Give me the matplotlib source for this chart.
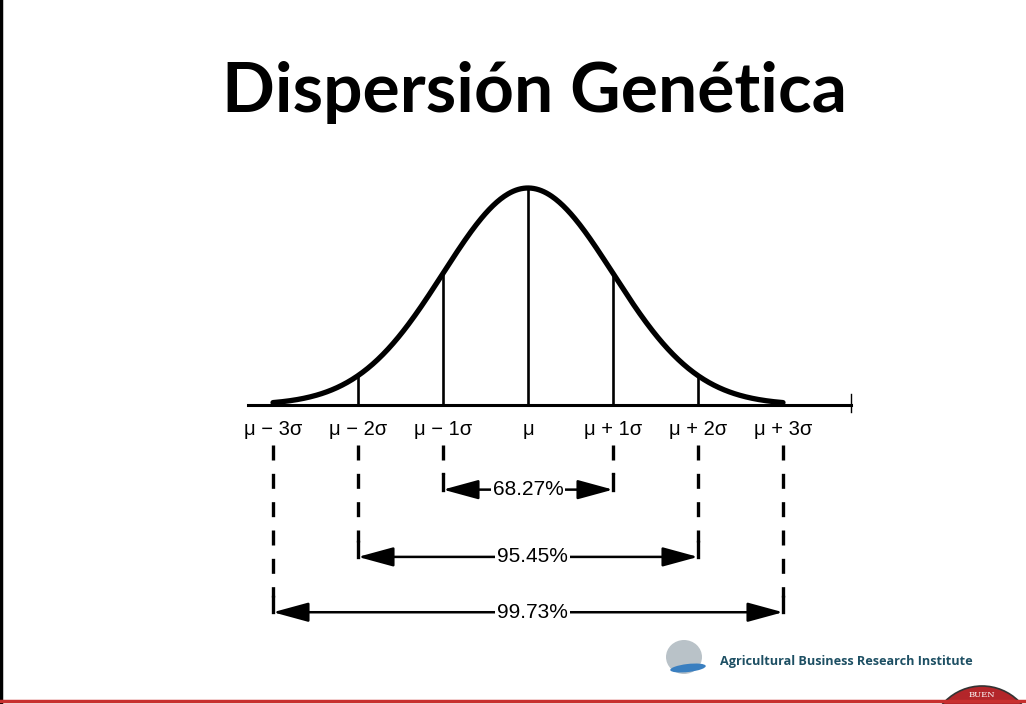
import numpy as np
import matplotlib
matplotlib.use("Agg")
import matplotlib.pyplot as plt
from matplotlib.patches import Ellipse

# chart content
title = "Dispersión Genética"
sigma_pos = [-3, -2, -1, 0, 1, 2, 3]
sigma_labels = ["μ − 3σ", "μ − 2σ", "μ − 1σ", "μ", "μ + 1σ", "μ + 2σ", "μ + 3σ"]
bands = [1, 2, 3]
band_labels = ["68.27%", "95.45%", "99.73%"]
band_levels = [-0.39, -0.70, -0.955]
footer = "Agricultural Business Research Institute"

W, H = 1026, 704
fig = plt.figure(figsize=(W / 100, H / 100), dpi=100)

# axes in sigma units, mu at px 528, sigma = 85 px, baseline at px 405 from top
sig_px, peak_px = 85.0, 217.0
ax = fig.add_axes([0, 0, 1, 1])
ax.set_xlim(-528 / sig_px, (W - 528) / sig_px)
ax.set_ylim(-(H - 405) / peak_px, 405 / peak_px)
ax.axis("off")

# bell curve (normalised to peak = 1)
xs = np.linspace(-3, 3, 400)
ax.plot(xs, np.exp(-xs ** 2 / 2), color="black", lw=3.8, solid_capstyle="round")

# baseline with end tick
ax.plot([-3.3, 3.8], [0, 0], color="black", lw=2.2)
ax.plot([3.8, 3.8], [-0.03, 0.05], color="black", lw=1.0)

# verticals under the curve
for s in sigma_pos[1:-1]:
    ax.plot([s, s], [0, np.exp(-s ** 2 / 2)], color="black", lw=1.9)

# sigma labels
for s, lab in zip(sigma_pos, sigma_labels):
    ax.text(s, -0.115, lab, ha="center", va="center", fontsize=14.5,
            family="Liberation Sans")

# bracket arrows
for k, lab, lev in zip(bands, band_labels, band_levels):
    for s in (-k, k):
        ax.plot([s, s], [-0.185, lev + 0.07], color="black", lw=2.4,
                dashes=(4.5, 4))
        ax.plot([s, s], [lev + 0.07, lev], color="black", lw=2.4)
    ax.annotate("", xy=(k, lev), xytext=(-k, lev),
                arrowprops=dict(arrowstyle="<|-|>,head_length=1.1,head_width=0.3",
                                color="black", lw=1.8, mutation_scale=20,
                                shrinkA=0, shrinkB=0))
    ax.text(0.05 if k > 1 else 0, lev, lab, ha="center", va="center", fontsize=15,
            family="Liberation Sans",
            bbox=dict(facecolor="white", edgecolor="none", pad=1.5))

# title
fig.text(535 / W, 1 - 93 / H, title, ha="center", va="center", fontsize=50,
         fontweight="bold", family="Lato")

# footer logo text
fig.text(720 / W, 1 - 661 / H, footer, ha="left", va="center", fontsize=9.1,
         fontweight="bold", color="#1d4f63", family="Open Sans")

# globe logo
fig.patches.append(Ellipse((684 / W, 1 - 657 / H), 36 / W, 34 / H,
                           transform=fig.transFigure, facecolor="#b9c2c8",
                           edgecolor="none"))
fig.patches.append(Ellipse((688 / W, 1 - 668 / H), 36 / W, 8 / H, angle=10,
                           transform=fig.transFigure, facecolor="#3a7fc0",
                           edgecolor="none"))

# slide frame: left edge and red bottom rule with seal
fig.add_artist(plt.Line2D([1 / W, 1 / W], [0, 1], color="black", lw=2.5))
fig.add_artist(plt.Line2D([0, 1], [3 / H, 3 / H], color="#c8302f", lw=2.5))
fig.patches.append(Ellipse((982 / W, 1 - 738 / H), 104 / W, 104 / H,
                           transform=fig.transFigure, facecolor="#b3262a",
                           edgecolor="#333333", lw=1.2))
fig.text(982 / W, 1 - 695 / H, "BUEN", ha="center", va="center", fontsize=6,
         color="white", family="DejaVu Serif")

fig.savefig("out.png", dpi=100)
